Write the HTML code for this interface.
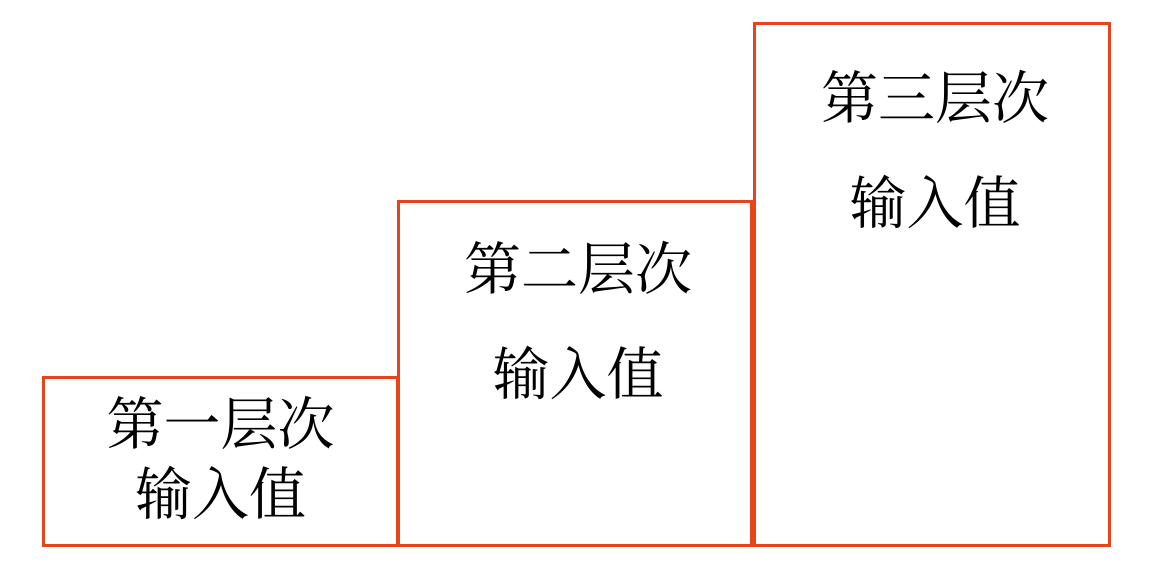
<!DOCTYPE html>
<html><head><meta charset="utf-8"><style>
html,body{margin:0;padding:0;background:#fff;}
body{width:1163px;height:579px;position:relative;overflow:hidden;font-family:"Liberation Serif","Noto Serif CJK SC",serif;}
.b{position:absolute;border:3px solid #e8441c;box-sizing:border-box;}
.t{position:absolute;font-size:57px;line-height:70px;height:70px;text-align:center;color:#000;white-space:nowrap;}
</style></head><body>
<div class="b" style="left:42px;top:376px;width:357px;height:171px;"></div>
<div class="b" style="left:397px;top:200px;width:356px;height:347px;"></div>
<div class="b" style="left:753px;top:22px;width:358px;height:525px;"></div>
<div class="t" style="left:42px;width:357px;top:391px;">第一层次</div>
<div class="t" style="left:42px;width:357px;top:461px;">输入值</div>
<div class="t" style="left:400px;width:356px;top:236px;">第二层次</div>
<div class="t" style="left:400px;width:356px;top:341px;">输入值</div>
<div class="t" style="left:756px;width:358px;top:65px;">第三层次</div>
<div class="t" style="left:756px;width:358px;top:170px;">输入值</div>
</body></html>
